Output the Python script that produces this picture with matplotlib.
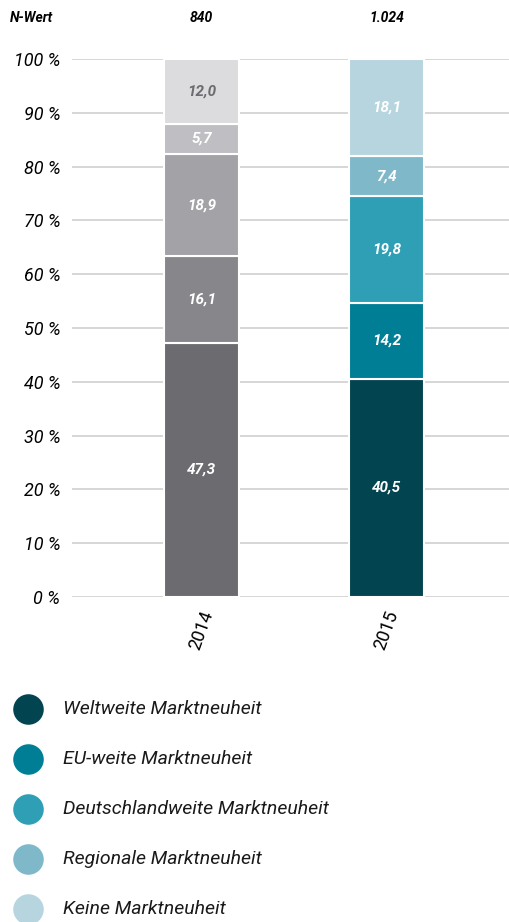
import matplotlib
matplotlib.use("Agg")
import matplotlib.pyplot as plt
import matplotlib.transforms as mtransforms
from matplotlib.lines import Line2D
from matplotlib import font_manager

names = {f.name for f in font_manager.fontManager.ttflist}
FONT = "Liberation Sans Narrow" if "Liberation Sans Narrow" in names else "Roboto"
plt.rcParams['font.family'] = [FONT, 'DejaVu Sans']

years = ["2014", "2015"]
n_values = ["840", "1.024"]
categories = ["Weltweite Marktneuheit", "EU-weite Marktneuheit",
              "Deutschlandweite Marktneuheit", "Regionale Marktneuheit",
              "Keine Marktneuheit"]
values_2014 = [47.3, 16.1, 18.9, 5.7, 12.0]
values_2015 = [40.5, 14.2, 19.8, 7.4, 18.1]
colors_2014 = ["#6b6b70", "#86868b", "#a3a3a7", "#bfbfc3", "#dcdcde"]
colors_2015 = ["#024450", "#007e95", "#2f9fb5", "#7fb9c9", "#b7d5df"]
yticks = [0, 10, 20, 30, 40, 50, 60, 70, 80, 90, 100]

W, H = 510, 922
fig = plt.figure(figsize=(W/100, H/100), dpi=100)
ax = fig.add_axes([72/W, 1-597/H, (W-72)/W, (597-59)/H])

x = [0, 1]
series = [values_2014, values_2015]
cols = [colors_2014, colors_2015]
for xi, vals, cs in zip(x, series, cols):
    bottom = 0
    for i, v in enumerate(vals):
        bars = ax.bar(xi, v, bottom=bottom, width=0.405, color=cs[i],
                      edgecolor="white", linewidth=1.5, zorder=3)
        tc = "#6b6b70" if (xi == 0 and i == 4) else "white"
        ax.bar_label(bars, labels=[f"{v:.1f}".replace(".", ",")], label_type="center",
                     color=tc, fontsize=11, fontweight="bold", fontstyle="italic")
        bottom += v

ax.set_xlim(-0.7, 1.668)
ax.set_ylim(0, 100)
ax.set_yticks(yticks)
ax.set_yticklabels([f"{t} %" for t in yticks], fontsize=13, fontstyle="italic")
ax.yaxis.grid(True, color="#d0d0d0", linewidth=1.2, zorder=0)
ax.set_axisbelow(True)
ax.tick_params(axis="y", length=0, pad=8.5)
ax.tick_params(axis="x", length=0, pad=8)
ax.set_xticks(x)
ax.set_xticklabels(years, rotation=70, fontsize=13, ha="center", va="top")
for s in ax.spines.values():
    s.set_visible(False)

# N-Wert row
fig.text(10/W, 1-18/H, "N-Wert", fontsize=10, fontweight="bold", fontstyle="italic",
         ha="left", va="center")
blend = mtransforms.blended_transform_factory(ax.transData, fig.transFigure)
for xi, n in zip(x, n_values):
    ax.text(xi, 1-18/H, n, transform=blend,
            fontsize=10, fontweight="bold", fontstyle="italic", ha="center", va="center")

# Legend
for i, (cat, c) in enumerate(zip(categories, colors_2015)):
    yy = 1 - (709 + 50*i)/H
    fig.add_artist(Line2D([28/W], [yy], marker="o", markersize=22, color=c,
                          markeredgewidth=0, linestyle="none", transform=fig.transFigure))
    fig.text(63/W, yy, cat, fontsize=14, fontstyle="italic", ha="left", va="center",
             color="#1a1a1a")

fig.savefig("out.png", dpi=100)
